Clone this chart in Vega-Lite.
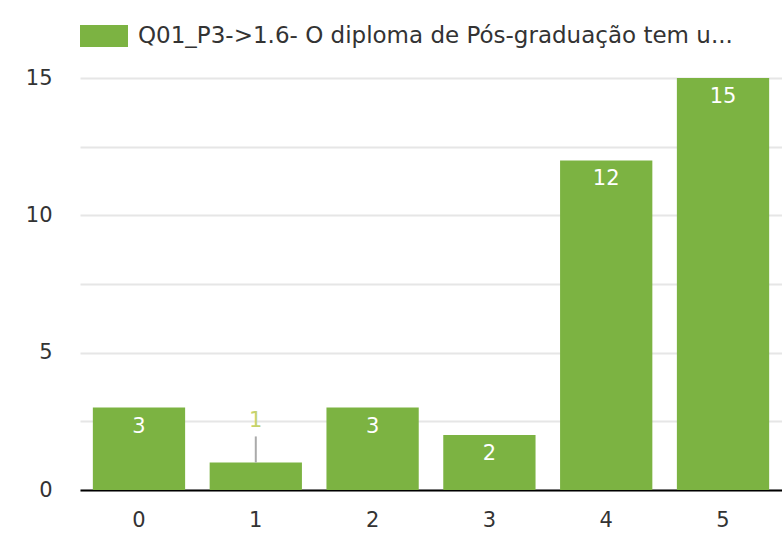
{
  "$schema": "https://vega.github.io/schema/vega-lite/v6.json",
  "width": 702,
  "height": 412,
  "autosize": {"type": "none"},
  "padding": {"left": 80, "top": 78, "right": 0, "bottom": 48},
  "background": "white",
  "config": {
    "view": {"stroke": null},
    "font": "DejaVu Sans"
  },
  "data": {
    "values": [
      {"x": "0", "value": 3, "series": "Q01_P3->1.6- O diploma de Pós-graduação tem u..."},
      {"x": "1", "value": 1, "series": "Q01_P3->1.6- O diploma de Pós-graduação tem u..."},
      {"x": "2", "value": 3, "series": "Q01_P3->1.6- O diploma de Pós-graduação tem u..."},
      {"x": "3", "value": 2, "series": "Q01_P3->1.6- O diploma de Pós-graduação tem u..."},
      {"x": "4", "value": 12, "series": "Q01_P3->1.6- O diploma de Pós-graduação tem u..."},
      {"x": "5", "value": 15, "series": "Q01_P3->1.6- O diploma de Pós-graduação tem u..."}
    ]
  },
  "encoding": {
    "x": {
      "field": "x", "type": "nominal",
      "scale": {"paddingInner": 0.21, "paddingOuter": 0.11},
      "axis": {
        "title": null, "labelAngle": 0, "ticks": false,
        "domainColor": "#000000", "domainWidth": 2,
        "labelFontSize": 21, "labelColor": "#333333", "labelPadding": 19
      }
    },
    "y": {
      "field": "value", "type": "quantitative",
      "scale": {"domain": [0, 15], "nice": false},
      "axis": {
        "title": null, "domain": false, "ticks": false,
        "values": [0, 2.5, 5, 7.5, 10, 12.5, 15],
        "labelExpr": "datum.value % 5 === 0 ? datum.label : ''",
        "gridColor": "#e6e6e6", "gridWidth": 2,
        "labelFontSize": 21, "labelColor": "#333333", "labelPadding": 28
      }
    }
  },
  "layer": [
    {
      "mark": {"type": "bar"},
      "encoding": {
        "color": {
          "field": "series", "type": "nominal",
          "scale": {"range": ["#7cb342"]},
          "legend": {
            "title": null, "orient": "none", "legendX": 0, "legendY": -66,
            "symbolType": "M-1,-0.46H1V0.46H-1Z", "symbolSize": 2304,
            "symbolStrokeWidth": 0, "symbolOpacity": 1,
            "labelFontSize": 23, "labelColor": "#333333", "labelLimit": 800,
            "labelOffset": 10
          }
        }
      }
    },
    {
      "transform": [{"filter": "datum.value >= 2"}],
      "mark": {"type": "text", "baseline": "top", "dy": 8, "fontSize": 21, "color": "white"},
      "encoding": {"text": {"field": "value"}}
    },
    {
      "transform": [{"filter": "datum.value < 2"}],
      "mark": {"type": "rule", "color": "#aaaaaa", "strokeWidth": 2},
      "encoding": {"y2": {"datum": 1.95}}
    },
    {
      "transform": [{"filter": "datum.value < 2"}],
      "mark": {"type": "text", "baseline": "middle", "dy": -42, "fontSize": 21, "color": "#c5d36a"},
      "encoding": {"text": {"field": "value"}}
    }
  ]
}
